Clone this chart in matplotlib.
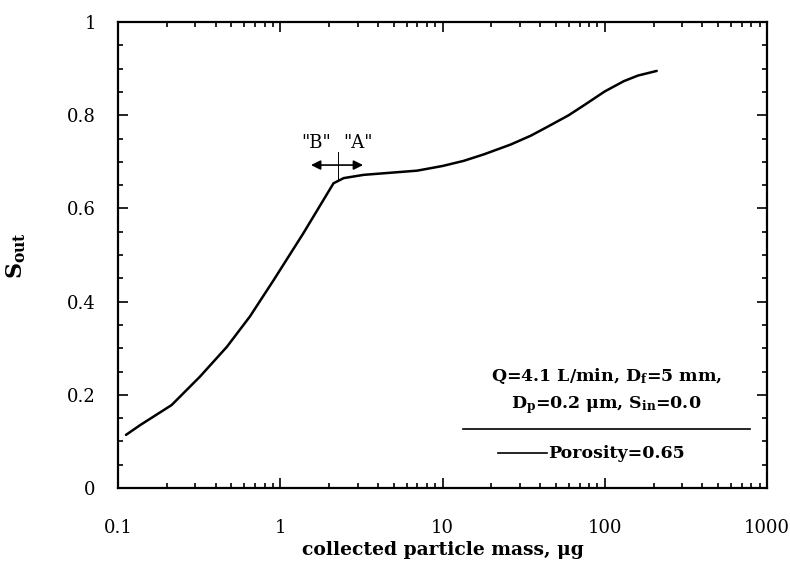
import matplotlib
matplotlib.use("Agg")
import matplotlib.pyplot as plt
from matplotlib.ticker import LogLocator, MultipleLocator, NullFormatter

# data
mass = [0.112, 0.137, 0.214, 0.32, 0.469, 0.65, 0.91, 1.39, 2.13, 2.46,
        3.27, 6.98, 10.0, 13.5, 18.0, 26.3, 35.0, 44.3, 60.0, 75.0, 100.0,
        131.0, 160.0, 209.0]
s_out = [0.114, 0.135, 0.178, 0.239, 0.303, 0.368, 0.446, 0.547, 0.654, 0.665,
         0.672, 0.681, 0.691, 0.702, 0.716, 0.737, 0.756, 0.775, 0.800, 0.822,
         0.851, 0.873, 0.885, 0.895]
x_ticks = [0.1, 1, 10, 100, 1000]
x_ticklabels = ["0.1", "1", "10", "100", "1000"]
y_ticks = [0, 0.2, 0.4, 0.6, 0.8, 1.0]
y_ticklabels = ["0", "0.2", "0.4", "0.6", "0.8", "1"]

plt.rcParams['font.family'] = ['DejaVu Serif']
plt.rcParams['mathtext.fontset'] = 'dejavuserif'
fig = plt.figure(figsize=(7.9, 5.72), dpi=100)
ax = fig.add_axes([118/790, 1-488/572, (767-118)/790, (488-22)/572])

ax.plot(mass, s_out, color='black', lw=1.8, solid_capstyle='round', solid_joinstyle='round')

ax.set_xscale('log')
ax.set_xlim(0.1, 1000)
ax.set_ylim(0, 1)
ax.set_xticks(x_ticks)
ax.set_xticklabels(x_ticklabels)
ax.xaxis.set_minor_locator(LogLocator(base=10, subs=range(2, 10)))
ax.xaxis.set_minor_formatter(NullFormatter())
ax.set_yticks(y_ticks)
ax.set_yticklabels(y_ticklabels)
ax.yaxis.set_minor_locator(MultipleLocator(0.05))

ax.tick_params(which='both', direction='in', top=True, right=True, width=1.2)
ax.tick_params(which='major', length=7)
ax.tick_params(which='minor', length=3.5)
ax.tick_params(axis='x', which='major', pad=22, labelsize=13)
ax.tick_params(axis='y', which='major', pad=16, labelsize=13)
for sp in ax.spines.values():
    sp.set_linewidth(1.6)

ax.set_xlabel("collected particle mass, \u03bcg", fontsize=13.5, fontweight='bold', labelpad=3)
ax.set_ylabel(r"$\mathbf{S_{out}}$", fontsize=16, labelpad=28)

# arrow annotation
ax.annotate("", xy=(1.547, 0.693), xytext=(3.24, 0.693),
            arrowprops=dict(arrowstyle='<|-|>', color='black', lw=1.2,
                            mutation_scale=14, shrinkA=0, shrinkB=0))
ax.plot([2.26, 2.26], [0.661, 0.722], color='black', lw=0.7)
ax.text(1.67, 0.740, '"B"', ha='center', va='center', fontsize=13)
ax.text(3.03, 0.740, '"A"', ha='center', va='center', fontsize=13)

# legend-like box
ax.text(0.753, 0.240, r"Q=4.1 L/min, D$_\mathbf{f}$=5 mm,", transform=ax.transAxes,
        ha='center', va='center', fontsize=12.5, fontweight='bold')
ax.text(0.753, 0.178, "D$_\\mathbf{p}$=0.2 \u03bcm, S$_\\mathbf{in}$=0.0", transform=ax.transAxes,
        ha='center', va='center', fontsize=12.5, fontweight='bold')
ax.plot([0.532, 0.974], [0.127, 0.127], transform=ax.transAxes, color='black', lw=1.2)
ax.plot([0.586, 0.661], [0.075, 0.075], transform=ax.transAxes, color='black', lw=1.2)
ax.text(0.663, 0.075, "Porosity=0.65", transform=ax.transAxes,
        ha='left', va='center', fontsize=12.5, fontweight='bold')

fig.savefig("out.png", dpi=100)
